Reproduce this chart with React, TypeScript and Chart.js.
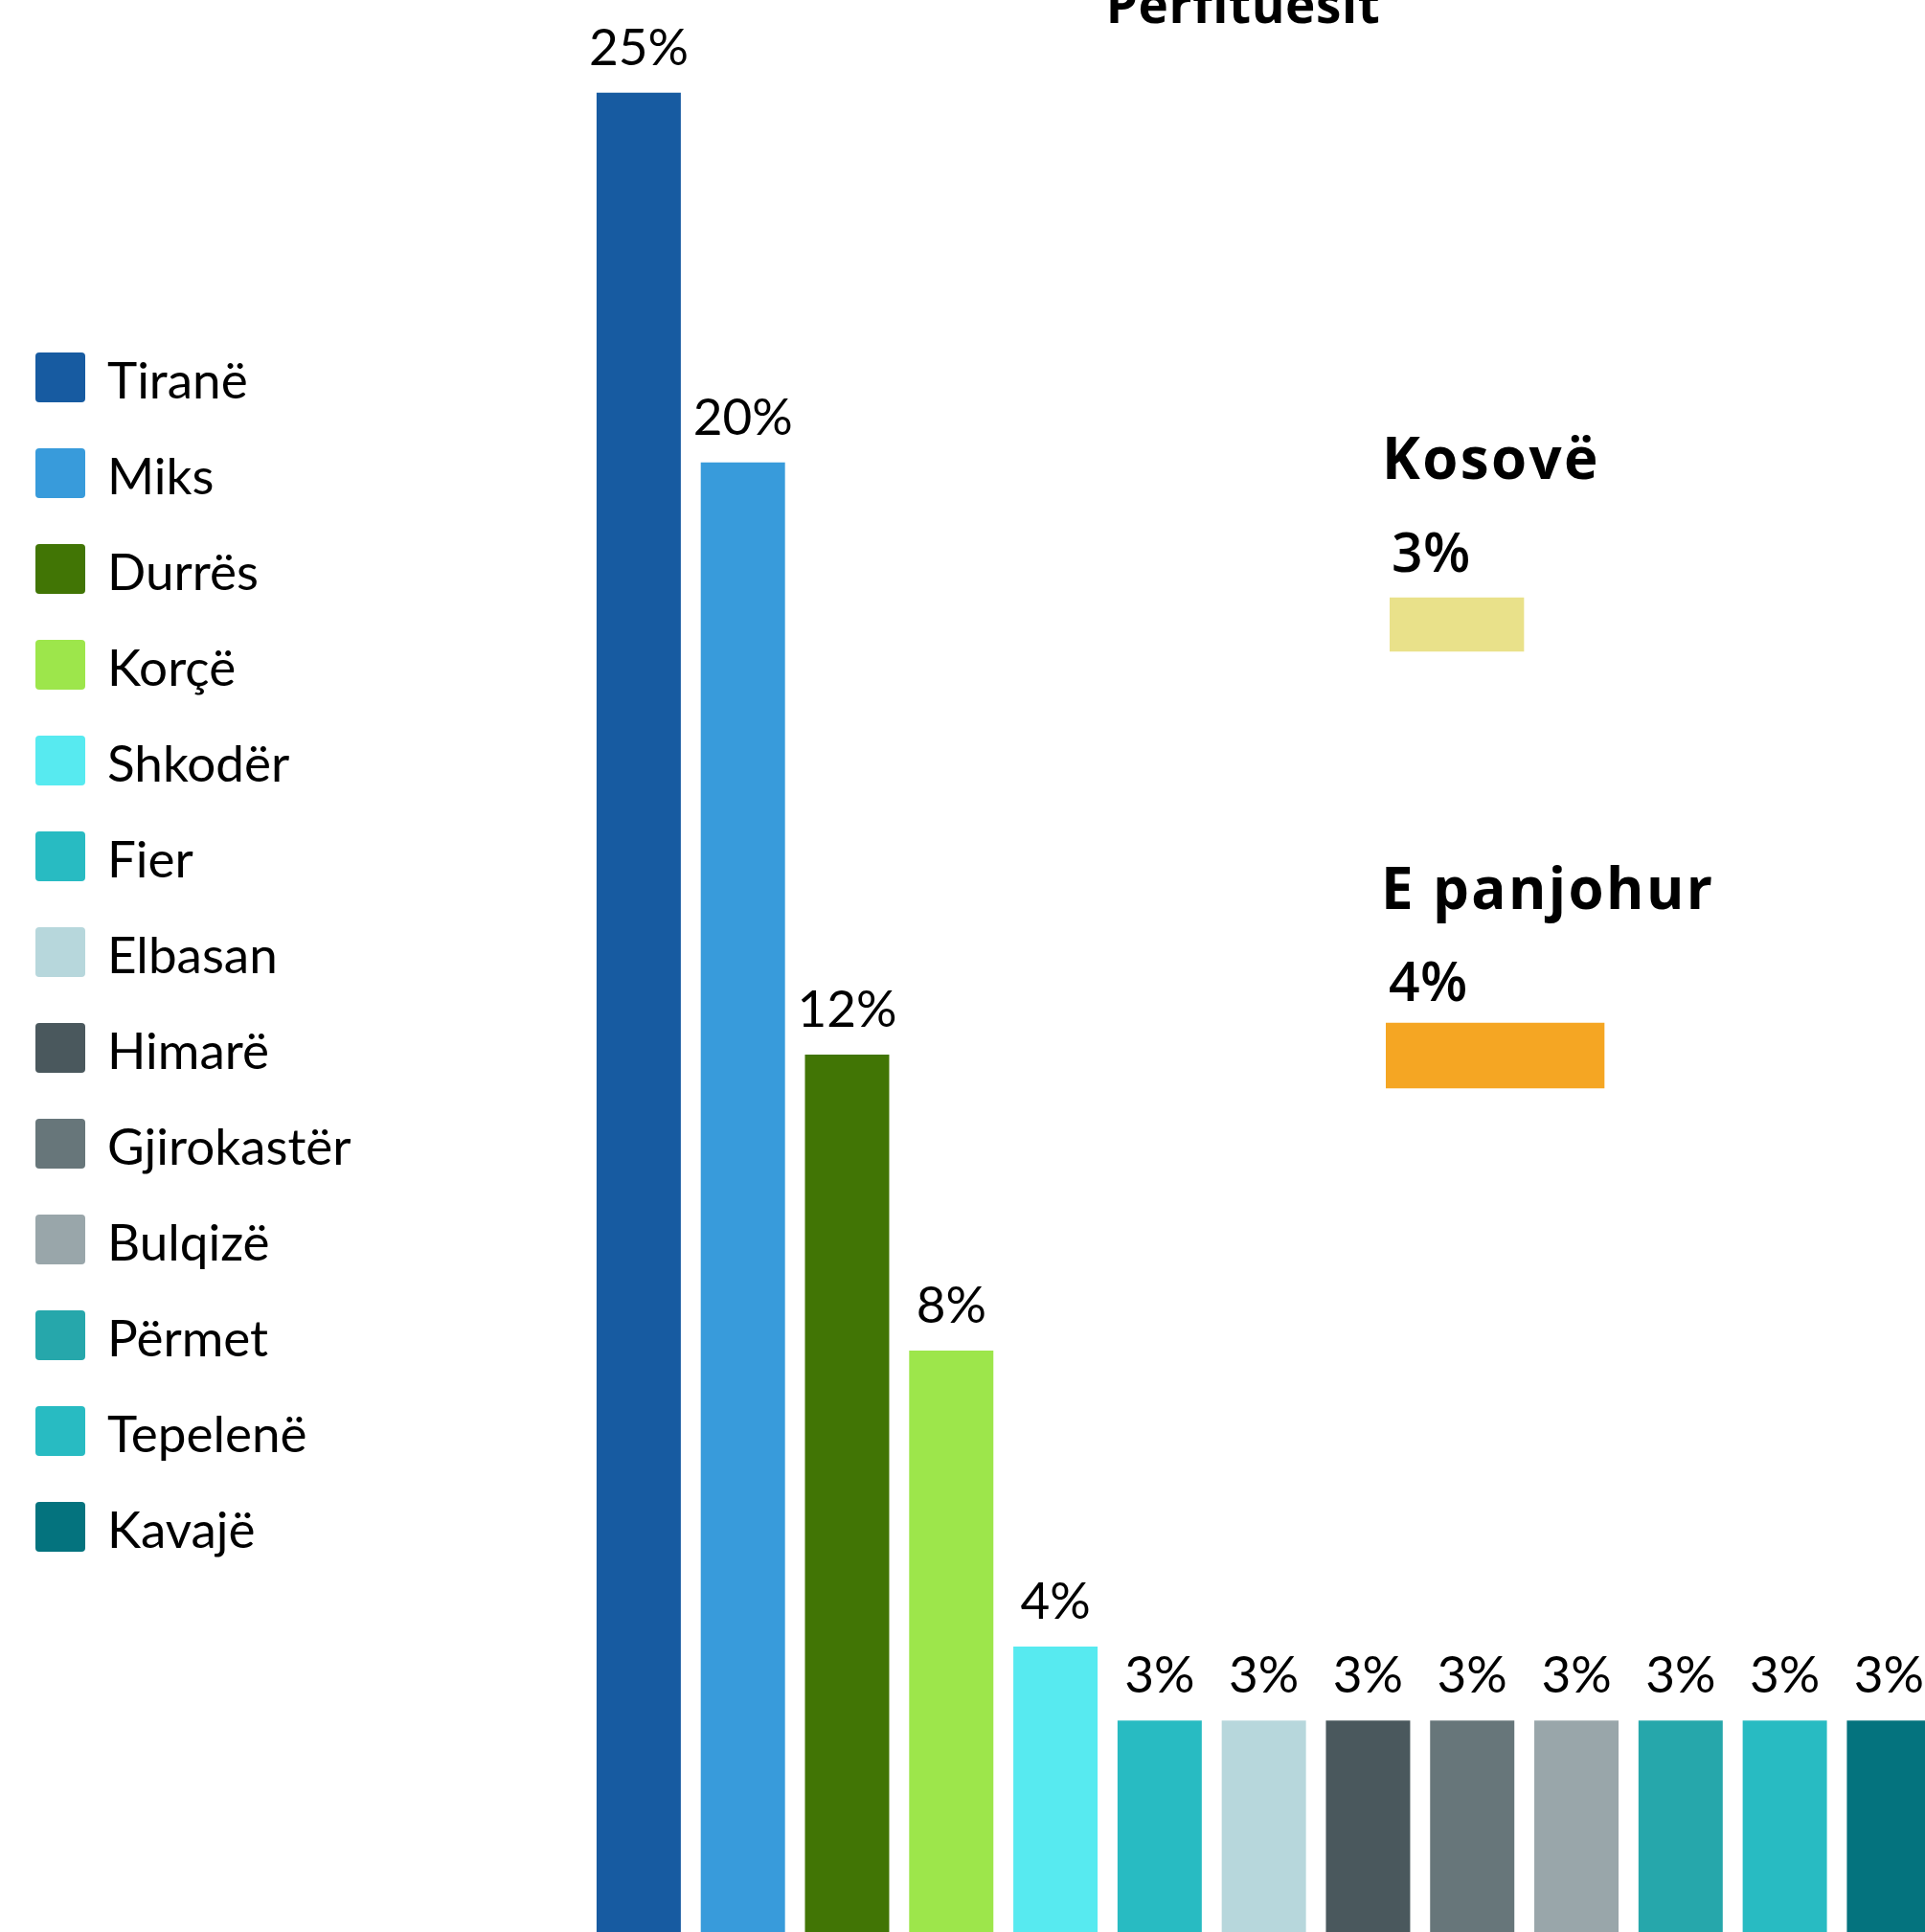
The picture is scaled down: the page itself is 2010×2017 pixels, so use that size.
import React, { useEffect, useRef } from "react";
import { Chart, registerables } from "chart.js";

Chart.register(...registerables);

// ---------------- data ----------------
const chartTitle = "Përfituesit";
const categories = [
  "Tiranë", "Miks", "Durrës", "Korçë", "Shkodër", "Fier", "Elbasan",
  "Himarë", "Gjirokastër", "Bulqizë", "Përmet", "Tepelenë", "Kavajë",
];
const values = [25, 20, 12, 8, 4, 3, 3, 3, 3, 3, 3, 3, 3];
const colors = [
  "#175BA1", "#389BDB", "#417505", "#9DE64B", "#57EAF0", "#28BBC2", "#B7D7DC",
  "#4A585D", "#67767A", "#99A6AA", "#26A7AB", "#28BBC2", "#04737E",
];
const sideCategories = ["Kosovë", "E panjohur"];
const sideValues = [3, 4];
const sideColors = ["#E9E18A", "#F5A623"];

// ---------------- layout ----------------
const VIEW_W = 2010;
const VIEW_H = 2017;
const MAIN_W = 2100;
const MAIN_H = 2200;
const MAIN_OFFSET_Y = 100; // canvas extends above the visible area

const LABEL_FONT = '400 53px "Lato"';
const TITLE_FONT = '700 53px "Open Sans"';
const SIDE_NAME_FONT = '700 60px "Open Sans"';
const SIDE_VALUE_FONT = '600 57px "Open Sans"';

const mainPlugin = {
  id: "mainDecor",
  afterDraw(chart: any) {
    const ctx = chart.ctx;
    ctx.save();
    // title (partly cut by the top of the view)
    ctx.fillStyle = "#000";
    ctx.font = TITLE_FONT;
    ctx.textAlign = "center";
    ctx.textBaseline = "alphabetic";
    (ctx as any).letterSpacing = "0.6px";
    ctx.fillText(chartTitle, 1298, 24 + MAIN_OFFSET_Y);
    (ctx as any).letterSpacing = "0px";

    // value labels above bars
    const meta = chart.getDatasetMeta(0);
    ctx.font = LABEL_FONT;
    ctx.textAlign = "center";
    meta.data.forEach((el: any, i: number) => {
      ctx.fillText(`${values[i]}%`, el.x, el.y - 29);
    });

    // legend on the left
    ctx.textAlign = "left";
    categories.forEach((name, i) => {
      const top = 368 + i * 100 + MAIN_OFFSET_Y;
      ctx.fillStyle = colors[i];
      ctx.beginPath();
      (ctx as any).roundRect(37, top, 52, 52, 4);
      ctx.fill();
      ctx.fillStyle = "#000";
      ctx.fillText(name, 112, top + 48);
    });
    ctx.restore();
  },
};

function MainChart() {
  const ref = useRef<HTMLCanvasElement | null>(null);
  useEffect(() => {
    if (!ref.current) return;
    const chart = new Chart(ref.current, {
      type: "bar",
      data: {
        labels: categories,
        datasets: [
          {
            data: values,
            backgroundColor: colors,
            borderWidth: 0,
            categoryPercentage: 1,
            barPercentage: 0.8086,
          },
        ],
      },
      options: {
        responsive: false,
        animation: false,
        devicePixelRatio: 1,
        layout: {
          padding: {
            left: 612.5,
            right: MAIN_W - 2026.8,
            top: 96.5 + MAIN_OFFSET_Y,
            bottom: MAIN_H - (2028 + MAIN_OFFSET_Y),
          },
        },
        scales: {
          x: { display: false },
          y: { display: false, min: 0, max: 25 },
        },
        plugins: {
          legend: { display: false },
          title: { display: false },
          tooltip: { enabled: false },
        },
      },
      plugins: [mainPlugin],
    });
    return () => chart.destroy();
  }, []);
  return (
    <canvas
      ref={ref}
      width={MAIN_W}
      height={MAIN_H}
      style={{
        position: "absolute",
        left: 0,
        top: -MAIN_OFFSET_Y,
        width: MAIN_W,
        height: MAIN_H,
      }}
    />
  );
}

type SideCfg = {
  left: number;
  top: number;
  width: number;
  height: number;
  padding: { left: number; right: number; top: number; bottom: number };
  max: number;
  thickness: number;
  nameDx: number;
  nameDy: number;
  valueDx: number;
  valueDy: number;
};

const sideLayouts: SideCfg[] = [
  {
    left: 1400, top: 400, width: 600, height: 320,
    padding: { left: 51, right: 600 - (51 + 466.7), top: 220, bottom: 36 },
    max: 10, thickness: 56,
    nameDx: -8, nameDy: -124, valueDx: 2, valueDy: -27,
  },
  {
    left: 1400, top: 840, width: 600, height: 340,
    padding: { left: 47, right: 600 - (47 + 456), top: 226, bottom: 42 },
    max: 8, thickness: 68,
    nameDx: -5, nameDy: -119, valueDx: 3, valueDy: -23,
  },
];

function SideChart({ index }: { index: number }) {
  const ref = useRef<HTMLCanvasElement | null>(null);
  const cfg = sideLayouts[index];
  useEffect(() => {
    if (!ref.current) return;
    const plugin = {
      id: "sideDecor" + index,
      afterDraw(chart: any) {
        const ctx = chart.ctx;
        const el = chart.getDatasetMeta(0).data[0] as any;
        const barLeft = el.base;
        const barTop = el.y - el.height / 2;
        ctx.save();
        ctx.fillStyle = "#000";
        ctx.textAlign = "left";
        ctx.textBaseline = "alphabetic";
        ctx.font = SIDE_NAME_FONT;
        (ctx as any).letterSpacing = "2.4px";
        ctx.fillText(sideCategories[index], barLeft + cfg.nameDx, barTop + cfg.nameDy);
        (ctx as any).letterSpacing = "0.5px";
        ctx.font = SIDE_VALUE_FONT;
        ctx.fillText(`${sideValues[index]}%`, barLeft + cfg.valueDx, barTop + cfg.valueDy);
        (ctx as any).letterSpacing = "0px";
        ctx.restore();
      },
    };
    const chart = new Chart(ref.current, {
      type: "bar",
      data: {
        labels: [sideCategories[index]],
        datasets: [
          {
            data: [sideValues[index]],
            backgroundColor: sideColors[index],
            borderWidth: 0,
            barThickness: cfg.thickness,
          },
        ],
      },
      options: {
        indexAxis: "y",
        responsive: false,
        animation: false,
        devicePixelRatio: 1,
        layout: { padding: cfg.padding },
        scales: {
          x: { display: false, min: 0, max: cfg.max },
          y: { display: false },
        },
        plugins: {
          legend: { display: false },
          title: { display: false },
          tooltip: { enabled: false },
        },
      },
      plugins: [plugin],
    });
    return () => chart.destroy();
  }, [index]);
  return (
    <canvas
      ref={ref}
      width={cfg.width}
      height={cfg.height}
      style={{
        position: "absolute",
        left: cfg.left,
        top: cfg.top,
        width: cfg.width,
        height: cfg.height,
      }}
    />
  );
}

export default function App() {
  return (
    <div
      style={{
        position: "fixed",
        left: 0,
        top: 0,
        width: VIEW_W,
        height: VIEW_H,
        overflow: "hidden",
        background: "#fff",
      }}
    >
      <MainChart />
      <SideChart index={0} />
      <SideChart index={1} />
    </div>
  );
}
